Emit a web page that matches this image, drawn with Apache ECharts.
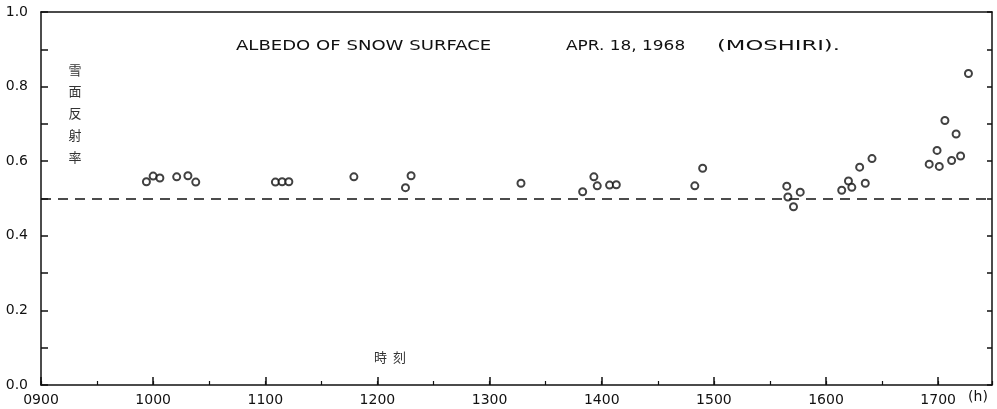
<!doctype html>
<html>
    <head>
        <meta charset="utf-8"/>
        <title>albedo of snow surface</title>
        <script src="https://cdn.jsdelivr.net/npm/echarts@6/dist/echarts.min.js"></script>
        <style>
*{margin:0;padding:0;}
body{background:#ffffff;}
#main{width:997px;height:409px;}
        </style>
    </head>
    <body>
        <div id="main"></div>
<script type="text/javascript">

// observation times, decimal hours (9.5 = 09:30)
var times = [9.94, 10.00, 10.06, 10.21, 10.31, 10.38,
             11.09, 11.15, 11.21, 11.79, 12.25, 12.30,
             13.28, 13.83, 13.93, 13.96, 14.07, 14.13,
             14.83, 14.90, 15.65, 15.66, 15.71, 15.77,
             16.14, 16.20, 16.23, 16.30, 16.35, 16.41,
             16.92, 16.99, 17.01, 17.06, 17.12, 17.16, 17.20, 17.27];
// albedo
var albedo = [0.545, 0.560, 0.555, 0.558, 0.561, 0.544,
              0.544, 0.545, 0.545, 0.558, 0.529, 0.561,
              0.541, 0.518, 0.558, 0.534, 0.536, 0.537,
              0.534, 0.581, 0.533, 0.504, 0.478, 0.517,
              0.522, 0.547, 0.530, 0.584, 0.541, 0.607,
              0.592, 0.629, 0.586, 0.709, 0.602, 0.673, 0.614, 0.835];
var refLine = 0.5;   // dashed reference level
var yLabels = ['0.0', '0.2', '0.4', '0.6', '0.8', '1.0'];

var chartDom = document.getElementById('main');
var myChart = echarts.init(chartDom);

var pts = times.map(function (t, i) { return [t, albedo[i]]; });
var ink = '#111';
var labelFont = { color: ink, fontSize: 14, fontFamily: 'DejaVu Sans' };

var option = {
    animation: false,
    backgroundColor: '#ffffff',
    grid: { left: 41, right: 5, top: 12, bottom: 24 },
    xAxis: [
        {   // hours, long ticks + labels
            type: 'value', position: 'bottom', min: 9, max: 17.48, interval: 1,
            axisLine: { lineStyle: { color: ink, width: 1.5 } },
            axisTick: { inside: true, length: 8, lineStyle: { color: ink, width: 1.5 } },
            splitLine: { show: false },
            axisLabel: Object.assign({
                margin: 8, showMaxLabel: false,
                formatter: function (v) {
                    if (Math.abs(v - Math.round(v)) > 1e-6) return '';
                    return String(Math.round(v) * 100).padStart(4, '0');
                }
            }, labelFont)
        },
        {   // half hour short ticks
            type: 'value', position: 'bottom', min: 9, max: 17.48, interval: 0.5,
            axisLine: { show: false },
            axisTick: { inside: true, length: 4, lineStyle: { color: ink, width: 1.2 } },
            splitLine: { show: false },
            axisLabel: { show: false }
        },
        {   // top frame
            type: 'value', position: 'top', min: 9, max: 17.48,
            axisLine: { lineStyle: { color: ink, width: 1.5 } },
            axisTick: { show: false }, axisLabel: { show: false }, splitLine: { show: false }
        }
    ],
    yAxis: [
        {
            type: 'value', position: 'left', min: 0, max: 1, interval: 0.1,
            axisLine: { lineStyle: { color: ink, width: 1.5 } },
            axisTick: { inside: true, length: 7, lineStyle: { color: ink, width: 1.5 } },
            splitLine: { show: false },
            axisLabel: Object.assign({
                margin: 13,
                formatter: function (v) {
                    var k = Math.round(v * 10);
                    return k % 2 === 0 ? yLabels[k / 2] : '';
                }
            }, labelFont)
        },
        {
            type: 'value', position: 'right', min: 0, max: 1, interval: 0.1,
            axisLine: { lineStyle: { color: ink, width: 1.5 } },
            axisTick: { inside: true, length: 5, lineStyle: { color: ink, width: 1.5 } },
            splitLine: { show: false },
            axisLabel: { show: false }
        }
    ],
    series: [
        {
            type: 'scatter',
            xAxisIndex: 0, yAxisIndex: 0,
            symbol: 'emptyCircle',
            symbolSize: 7,
            itemStyle: { color: ink, borderColor: ink, borderWidth: 1.8 },
            data: pts,
            markLine: {
                silent: true,
                symbol: ['none', 'none'],
                label: { show: false },
                lineStyle: { color: ink, width: 1.5, type: [10, 7] },
                data: [{ yAxis: refLine }]
            }
        }
    ],
    graphic: [
        { type: 'text', x: 236, y: 46, scaleX: 1.29,
          style: { text: 'ALBEDO OF SNOW SURFACE', fontSize: 14, fontFamily: 'DejaVu Sans', fill: ink, verticalAlign: 'middle' } },
        { type: 'text', x: 566, y: 46, scaleX: 1.21,
          style: { text: 'APR. 18, 1968', fontSize: 14, fontFamily: 'DejaVu Sans', fill: ink, verticalAlign: 'middle' } },
        { type: 'text', x: 717, y: 46, scaleX: 1.62,
          style: { text: '(MOSHIRI).', fontSize: 14, fontFamily: 'DejaVu Sans', fill: ink, verticalAlign: 'middle' } },
        { type: 'text', x: 75, y: 59,
          style: { text: '雪\n面\n反\n射\n率', fontSize: 13, lineHeight: 21.7, fontFamily: 'Noto Sans CJK JP', fill: '#333', align: 'center' } },
        { type: 'text', x: 390, y: 357,
          style: { text: '時  刻', fontSize: 13, fontFamily: 'Noto Sans CJK JP', fill: '#333', align: 'center', verticalAlign: 'middle' } },
        { type: 'text', x: 978, y: 397,
          style: { text: '(h)', fontSize: 14, fontFamily: 'DejaVu Sans', fill: ink, align: 'center', verticalAlign: 'middle' } }
    ]
};

myChart.setOption(option);

</script>
    </body>
</html>
